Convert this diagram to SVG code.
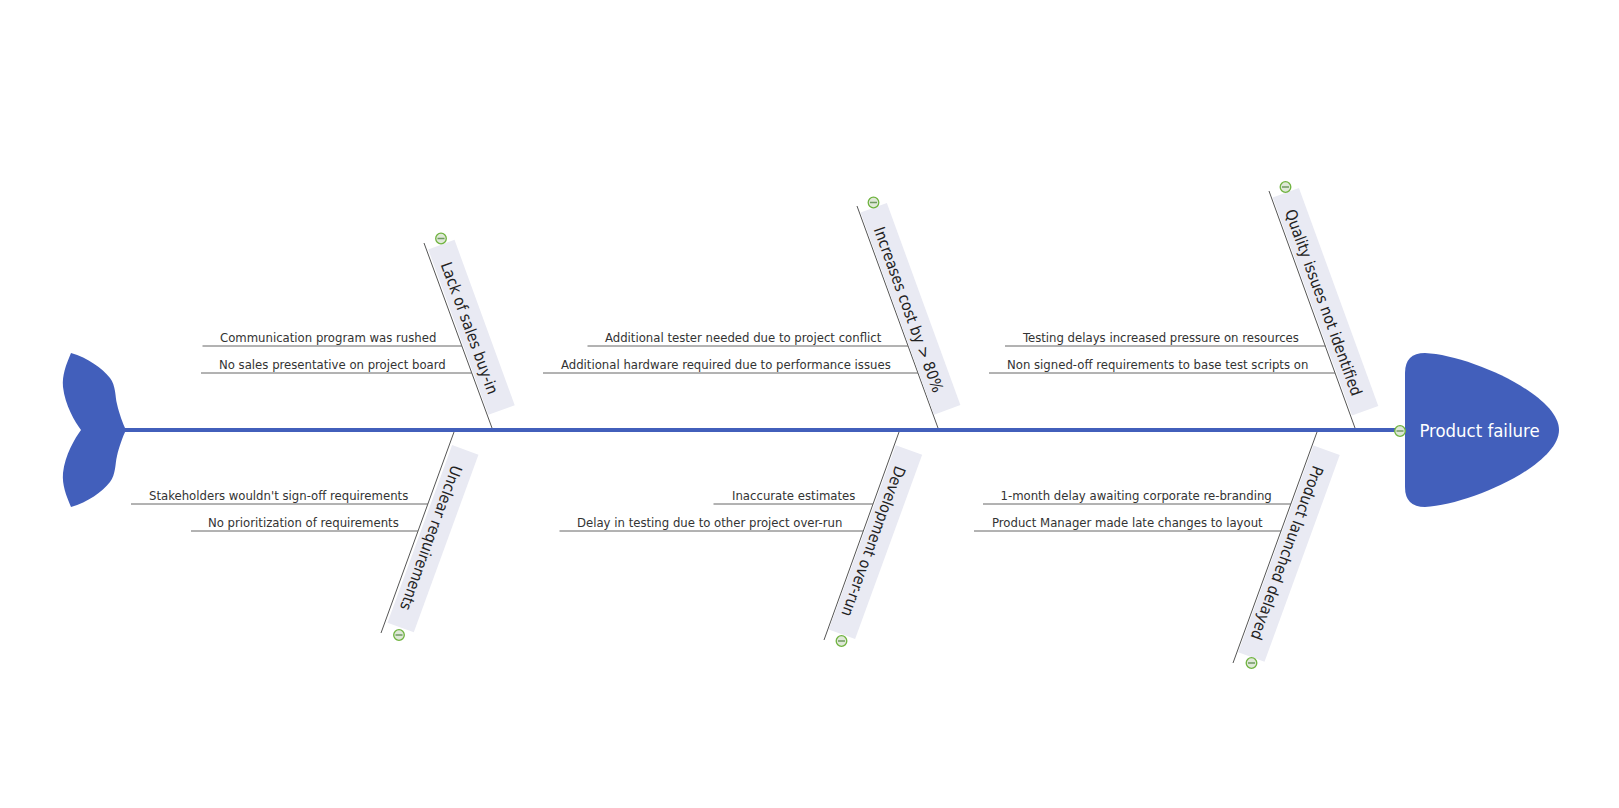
<svg xmlns="http://www.w3.org/2000/svg" width="1619" height="808" viewBox="0 0 1619 808">
<style>
text{font-family:"DejaVu Sans","Liberation Sans",sans-serif;font-stretch:condensed}
.sub{font-size:13px;fill:#333}
.cat{font-size:15.700px;fill:#222;text-anchor:middle}
.band{fill:#e9eaf3}
.bone{stroke:#555;stroke-width:1;fill:none}
.rib{stroke:#666;stroke-width:1;fill:none}
.spine{stroke:#425fbb;stroke-width:4;fill:none}
.fish{fill:#425fbb}
.tog{fill:#dfe8d8;stroke:#6fb33f;stroke-width:1.300}
.togm{stroke:#6f9a60;stroke-width:1.500}
</style>
<defs>
<g id="toggle"><circle r="5.300" class="tog"/><path d="M-3.500 0H3.500" class="togm"/></g>
</defs>
<g id="connectors">
<path class="spine" d="M124 430H1405"/>
<path class="bone" d="M424 243L492 428M857 206L938 428M1269 191L1355 428M454 432L381 633M899 432L824 640M1317 432L1233 663"/>
<path class="rib" d="M202.500 346H462M201 373H472M587.500 346H908M543 373H918M1005 346H1325.500M989 373H1335M131 504H428M191 531H418M713.500 504H873M559.500 531H863M983 504H1291M974 531H1281"/>
</g>
<g id="tail"><path class="fish" d="M71 353C88 358 102 368 110 378C116 386 115 396 117 404C119 413 123 424 126 430C123 436 119 447 117 456C115 464 116 474 110 482C102 492 88 502 71 507C66 495 62 485 63 473C65 455 75 438 81 430C75 422 65 405 63 387C62 375 66 365 71 353Z"/></g>
<g id="head"><path class="fish" d="M1425 353C1470 355 1559 395 1559 430C1559 465 1470 505 1425 507Q1405 507 1405 487V373Q1405 353 1425 353Z"/><text x="1479.500" y="437" font-size="18.400" fill="#fff" text-anchor="middle">Product failure</text><use href="#toggle" x="1400" y="431"/></g>
<g id="cat-lack"><g transform="translate(471 327.500) rotate(70)"><rect class="band" x="-88" y="-14.500" width="176" height="28"/><text class="cat" y="7">Lack of sales buy-in</text></g><use href="#toggle" x="441" y="238.500"/></g>
<g id="cat-cost"><g transform="translate(910 309) rotate(70)"><rect class="band" x="-107.500" y="-14.500" width="215" height="28"/><text class="cat" y="7">Increases cost by &gt; 80%</text></g><use href="#toggle" x="873.500" y="202.500"/></g>
<g id="cat-quality"><g transform="translate(1325 302) rotate(70)"><rect class="band" x="-116" y="-14.500" width="232" height="28"/><text class="cat" y="7">Quality issues not identified</text></g><use href="#toggle" x="1285.500" y="187"/></g>
<g id="cat-unclear"><g transform="translate(432.500 538.500) rotate(110)"><rect class="band" x="-94.500" y="-14.500" width="189" height="28"/><text class="cat" y="7">Unclear requirements</text></g><use href="#toggle" x="399" y="635"/></g>
<g id="cat-dev"><g transform="translate(875 542) rotate(110)"><rect class="band" x="-98" y="-14.500" width="196" height="28"/><text class="cat" y="7">Development over-run</text></g><use href="#toggle" x="841.500" y="641"/></g>
<g id="cat-launch"><g transform="translate(1288.500 553.500) rotate(110)"><rect class="band" x="-110" y="-14.500" width="220" height="28"/><text class="cat" y="7">Product launched delayed</text></g><use href="#toggle" x="1251.500" y="663"/></g>
<g id="sub-1"><text class="sub" x="220" y="342">Communication program was rushed</text></g>
<g id="sub-2"><text class="sub" x="219" y="369">No sales presentative on project board</text></g>
<g id="sub-3"><text class="sub" x="605" y="342">Additional tester needed due to project conflict</text></g>
<g id="sub-4"><text class="sub" x="561" y="369">Additional hardware required due to performance issues</text></g>
<g id="sub-5"><text class="sub" x="1023" y="342">Testing delays increased pressure on resources</text></g>
<g id="sub-6"><text class="sub" x="1007" y="369">Non signed-off requirements to base test scripts on</text></g>
<g id="sub-7"><text class="sub" x="149" y="500">Stakeholders wouldn't sign-off requirements</text></g>
<g id="sub-8"><text class="sub" x="208" y="527">No prioritization of requirements</text></g>
<g id="sub-9"><text class="sub" x="732" y="500">Inaccurate estimates</text></g>
<g id="sub-10"><text class="sub" x="577" y="527">Delay in testing due to other project over-run</text></g>
<g id="sub-11"><text class="sub" x="1000.500" y="500">1-month delay awaiting corporate re-branding</text></g>
<g id="sub-12"><text class="sub" x="992" y="527">Product Manager made late changes to layout</text></g>
</svg>
